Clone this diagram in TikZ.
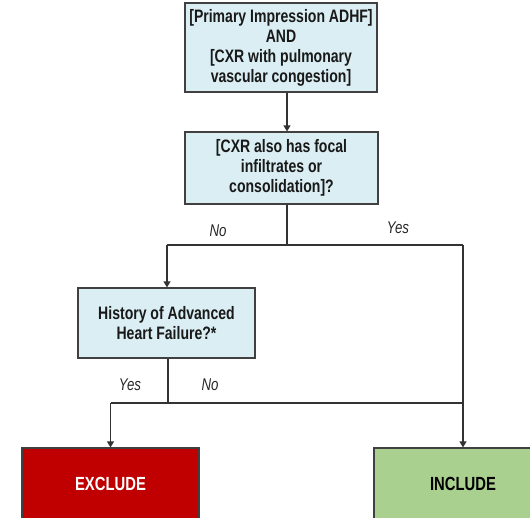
\documentclass[tikz,border=0pt]{standalone}
\usepackage{fontspec}
\setmainfont{Liberation Sans}[FakeStretch=0.78]
\usetikzlibrary{arrows.meta}
\definecolor{boxblue}{HTML}{DAEEF3}
\definecolor{exred}{HTML}{C00000}
\definecolor{incgreen}{HTML}{A9D08E}
\definecolor{edge}{HTML}{404040}
\tikzset{
  x=1pt, y=-1pt,
  qbox/.style={draw=edge, line width=1.2pt, fill=boxblue, align=center,
    font=\fontsize{18}{20}\selectfont\bfseries, text=black!90, inner sep=0pt},
  endbox/.style={draw=edge, line width=1.2pt, inner sep=0pt,
    font=\fontsize{19}{20}\selectfont\bfseries},
  link/.style={draw=black!80, line width=1.2pt},
  arr/.style={link, -{Triangle[width=7pt,length=6pt]}},
  lbl/.style={font=\fontsize{17}{18}\selectfont\itshape, text=black!85, inner sep=0pt}
}
\begin{document}
\begin{tikzpicture}
\useasboundingbox (0,0) rectangle (530,517);
\clip (0,0) rectangle (530,517);

% question boxes
\node[qbox, minimum width=192pt, minimum height=89pt] (q1) at (281,47.5)
  {[Primary Impression ADHF]\\AND\\{}[CXR with pulmonary\\vascular congestion]};
\node[qbox, minimum width=193pt, minimum height=72pt] (q2) at (281.5,168)
  {[CXR also has focal\\infiltrates or\\consolidation]?};
\node[qbox, minimum width=177pt, minimum height=70pt] (q3) at (166.5,323)
  {History of Advanced\\Heart Failure?*};

% outcome boxes (running past the lower edge)
\node[endbox, fill=exred, text=white, minimum width=177pt, minimum height=72pt] (ex) at (110.5,484) {EXCLUDE};
\node[endbox, fill=incgreen, text=black, minimum width=178pt, minimum height=72pt] (inc) at (463,484) {INCLUDE};

% branch points
\coordinate (s2) at (287,245);
\coordinate (l2) at (167,245);
\coordinate (r2) at (463,245);
\coordinate (s3) at (168,403);
\coordinate (l3) at (110.5,403);
\coordinate (r3) at (463,403);

% connectors
\draw[arr] ([xshift=6pt]q1.south) -- ([xshift=5.5pt]q2.north);
\draw[link] ([xshift=5.5pt]q2.south) -- (s2);
\draw[link] (l2) -- (r2);
\draw[arr] (l2) -- (q3.north -| l2);
\draw[arr] (r2) -- (inc.north);
\draw[link] (q3.south -| s3) -- (s3);
\draw[link] (l3) -- (r3);
\draw[arr] (l3) -- (ex.north);

% branch labels
\node[lbl] (no1) at (218,231) {No};
\node[lbl] (yes1) at (398,228) {Yes};
\node[lbl] (yes2) at (130,385) {Yes};
\node[lbl] (no2) at (210,385) {No};
\end{tikzpicture}
\end{document}
